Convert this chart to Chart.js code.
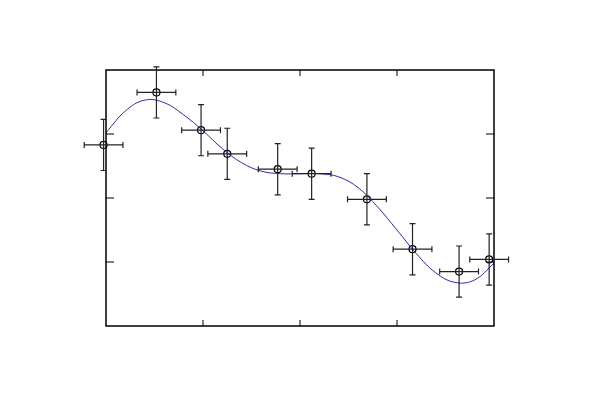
<!DOCTYPE html>
<html>
<head>
<meta charset="utf-8">
<script src="https://cdn.jsdelivr.net/npm/chart.js@4"></script>
<style>
  html, body { margin: 0; padding: 0; background: #fff; }
  #wrap { width: 600px; height: 400px; }
</style>
</head>
<body>
<div id="wrap"><canvas id="fitChart" width="600" height="400"></canvas></div>
<script>
// measured points
var xVals = [-0.025, 0.52, 0.98, 1.25, 1.77, 2.12, 2.69, 3.16, 3.64, 3.95];
var yVals = [2.83, 3.65, 3.06, 2.69, 2.45, 2.38, 1.98, 1.20, 0.85, 1.04];
var xErr = 0.2;
var yErr = 0.4;

// fitted curve
var fitX = [0, 0.2, 0.4, 0.6, 0.8, 1.0, 1.2, 1.4, 1.6, 1.8, 2.0, 2.2, 2.4, 2.6, 2.8, 3.0, 3.2, 3.4, 3.6, 3.8, 4.0];
var fitY = [3.02, 3.36, 3.53, 3.49, 3.30, 3.05, 2.77, 2.55, 2.42, 2.38, 2.38, 2.38, 2.33, 2.16, 1.86, 1.50, 1.13, 0.83, 0.68, 0.72, 0.98];

var tickVals = [1, 2, 3];

var points = xVals.map(function(x, i) { return { x: x, y: yVals[i] }; });
var curve = fitX.map(function(x, i) { return { x: x, y: fitY[i] }; });

// frame, inward ticks and error bars
var framePlugin = {
  id: 'frame',
  beforeDraw: function(chart) {
    var c = chart.ctx;
    c.save();
    c.fillStyle = '#fff';
    c.fillRect(0, 0, chart.width, chart.height);
    c.restore();
  },
  afterDatasetsDraw: function(chart) {
    var c = chart.ctx;
    var a = chart.chartArea;
    var sx = chart.scales.x, sy = chart.scales.y;
    c.save();
    c.strokeStyle = '#000';
    c.lineWidth = 1.5;
    c.strokeRect(a.left, a.top, a.right - a.left, a.bottom - a.top);
    c.lineWidth = 1;
    tickVals.forEach(function(t) {
      var px = sx.getPixelForValue(t);
      c.beginPath();
      c.moveTo(px, a.bottom); c.lineTo(px, a.bottom - 6);
      c.moveTo(px, a.top); c.lineTo(px, a.top + 6);
      var py = sy.getPixelForValue(t);
      c.moveTo(a.left, py); c.lineTo(a.left + 8, py);
      c.moveTo(a.right, py); c.lineTo(a.right - 8, py);
      c.stroke();
    });
    // error bars
    c.strokeStyle = '#222';
    c.lineWidth = 1.2;
    var cap = 3;
    points.forEach(function(p) {
      var x0 = sx.getPixelForValue(p.x - xErr), x1 = sx.getPixelForValue(p.x + xErr);
      var y0 = sy.getPixelForValue(p.y - yErr), y1 = sy.getPixelForValue(p.y + yErr);
      var cx = sx.getPixelForValue(p.x), cy = sy.getPixelForValue(p.y);
      c.beginPath();
      c.moveTo(x0, cy); c.lineTo(x1, cy);
      c.moveTo(x0, cy - cap); c.lineTo(x0, cy + cap);
      c.moveTo(x1, cy - cap); c.lineTo(x1, cy + cap);
      c.moveTo(cx, y0); c.lineTo(cx, y1);
      c.moveTo(cx - cap, y0); c.lineTo(cx + cap, y0);
      c.moveTo(cx - cap, y1); c.lineTo(cx + cap, y1);
      c.stroke();
    });
    c.restore();
  }
};

var ctx = document.getElementById('fitChart').getContext('2d');
var chart = new Chart(ctx, {
  type: 'scatter',
  data: {
    datasets: [{
      label: 'fit',
      data: curve,
      showLine: true,
      borderColor: 'rgb(40, 40, 210)',
      borderWidth: 1,
      pointRadius: 0,
      tension: 0.4,
      fill: false
    }, {
      label: 'data',
      data: points,
      showLine: false,
      pointStyle: 'circle',
      pointRadius: 3.5,
      pointBorderColor: '#000',
      pointBackgroundColor: 'rgba(0,0,0,0)',
      pointBorderWidth: 1.2,
      clip: false
    }]
  },
  options: {
    responsive: false,
    animation: false,
    layout: {
      padding: { left: 106, right: 106, top: 70, bottom: 74 }
    },
    plugins: {
      legend: { display: false },
      tooltip: { enabled: false }
    },
    scales: {
      x: { type: 'linear', display: false, min: 0, max: 4 },
      y: { type: 'linear', display: false, min: 0, max: 4 }
    }
  },
  plugins: [framePlugin]
});
</script>
</body>
</html>
